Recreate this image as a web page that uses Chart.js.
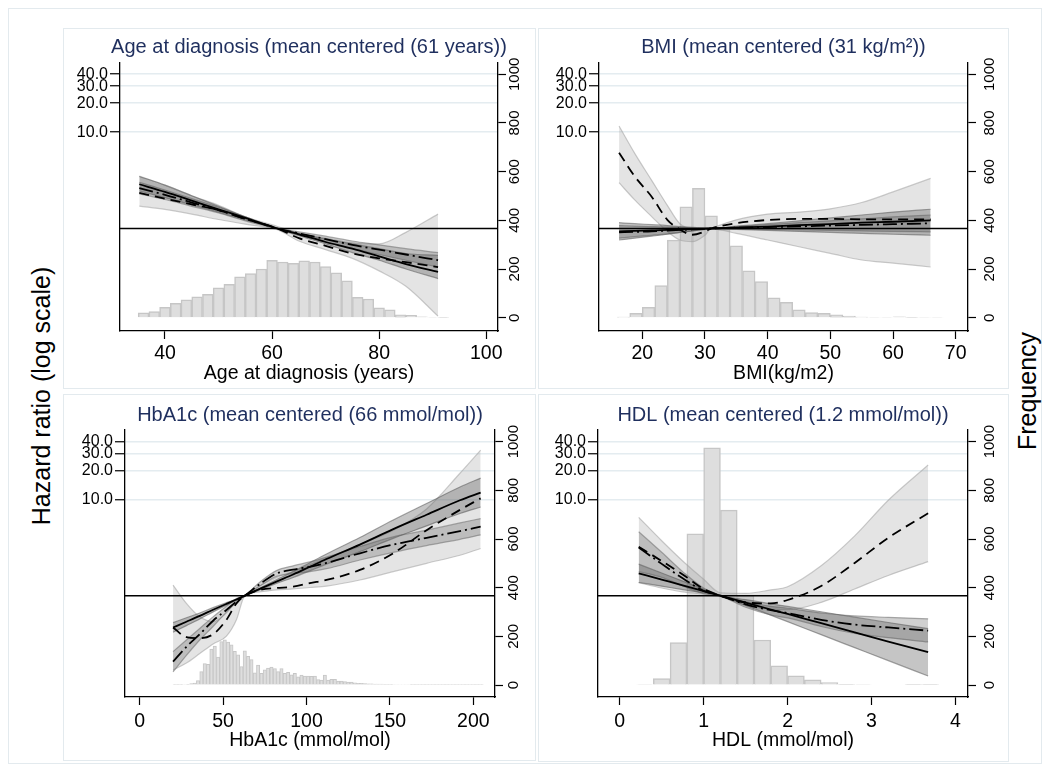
<!DOCTYPE html>
<html><head><meta charset="utf-8">
<script src="https://cdn.jsdelivr.net/npm/chart.js@4.4.0/dist/chart.umd.min.js"></script>
<style>
body{margin:0;background:#fff;width:1049px;height:769px;overflow:hidden;position:relative;font-family:"Liberation Sans",Arial,sans-serif;}
.box{position:absolute;border:1px solid #e3eaee;box-sizing:border-box;}
canvas{position:absolute;}
.lab{position:absolute;font-size:25px;white-space:nowrap;transform:translate(-50%,-50%) rotate(-90deg);color:#000;}
</style></head><body>
<div class="box" style="left:8px;top:8px;width:1034px;height:756px"></div>
<div class="box" style="left:63px;top:28px;width:473px;height:361px"></div>
<div class="box" style="left:538px;top:28px;width:471px;height:361px"></div>
<div class="box" style="left:63px;top:394px;width:473px;height:367px"></div>
<div class="box" style="left:538px;top:394px;width:471px;height:368px"></div>
<canvas id="c1" width="473" height="370" style="left:63px;top:20px"></canvas>
<canvas id="c2" width="474" height="370" style="left:536px;top:20px"></canvas>
<canvas id="c3" width="473" height="372" style="left:63px;top:390px"></canvas>
<canvas id="c4" width="474" height="372" style="left:536px;top:390px"></canvas>
<div class="lab" style="left:41px;top:396px">Hazard ratio (log scale)</div>
<div class="lab" style="left:1027px;top:391px">Frequency</div>
<script>
// ---------- tick labels ----------
const hrTicks = [10, 20, 30, 40];
const freqTicks = [0, 200, 400, 600, 800, 1000];
const ageTicks = [40, 60, 80, 100];
const bmiTicks = [20, 30, 40, 50, 60, 70];
const hbaTicks = [0, 50, 100, 150, 200];
const hdlTicks = [0, 1, 2, 3, 4];

// ---------- Age at diagnosis ----------
const ageBins = [36,38,40,42,44,46,48,50,52,54,56,58,60,62,64,66,68,70,72,74,76,78,80,82,84,86,88,90,92];
const ageFreq = [20,25,43,59,73,86,96,123,137,168,181,200,236,229,223,234,229,210,184,152,84,77,41,32,12,10,4,2,1];
const ageX = [35.2, 40, 45, 50, 55, 61, 65, 70, 75, 80, 85, 91];
const ageLinHR = [2.88, 2.40, 1.95, 1.58, 1.29, 1.00, 0.871, 0.724, 0.617, 0.513, 0.427, 0.355];
const ageLinUp = [3.47, 2.82, 2.19, 1.70, 1.32, 1.01, 0.891, 0.776, 0.692, 0.617, 0.550, 0.525];
const ageLinLo = [2.45, 2.09, 1.76, 1.48, 1.23, 0.99, 0.841, 0.692, 0.562, 0.468, 0.380, 0.302];
const ageDdHR = [2.63, 2.24, 1.86, 1.55, 1.26, 1.00, 0.891, 0.776, 0.676, 0.603, 0.537, 0.468];
const ageDdUp = [3.02, 2.51, 2.04, 1.66, 1.32, 1.01, 0.923, 0.832, 0.741, 0.676, 0.617, 0.562];
const ageDdLo = [2.29, 2.00, 1.70, 1.45, 1.20, 0.99, 0.861, 0.724, 0.617, 0.537, 0.468, 0.398];
const ageSplHR = [2.34, 2.04, 1.78, 1.55, 1.26, 1.00, 0.794, 0.661, 0.550, 0.490, 0.447, 0.398];
const ageSplUp = [3.51, 2.82, 2.19, 1.74, 1.32, 1.05, 0.891, 0.794, 0.708, 0.692, 0.912, 1.41];
const ageSplLo = [1.71, 1.58, 1.41, 1.24, 1.11, 0.97, 0.741, 0.603, 0.490, 0.363, 0.251, 0.123];

// ---------- BMI ----------
const bmiBins = [17,19,21,23,25,27,29,31,33,35,37,39,41,43,45,47,49,51,53,55,57,59,61,63,65,67];
const bmiFreq = [3,18,43,132,319,456,532,419,363,295,193,148,82,63,32,21,18,12,7,3,2,2,4,1,2,2];
const bmiX = [16.3, 18.8, 21.5, 24, 26, 28, 30, 31, 35, 40, 45, 50, 55, 60, 66];
const bmiSplHR = [6.12, 3.47, 2.14, 1.23, 0.977, 0.861, 0.933, 1.00, 1.135, 1.225, 1.259, 1.259, 1.245, 1.245, 1.245];
const bmiSplUp = [11.59, 6.03, 3.16, 1.74, 1.12, 0.989, 0.977, 1.01, 1.23, 1.41, 1.48, 1.60, 1.86, 2.40, 3.31];
const bmiSplLo = [2.99, 1.98, 1.33, 0.93, 0.759, 0.730, 0.851, 0.989, 0.891, 0.759, 0.646, 0.552, 0.471, 0.437, 0.398];
const bmiLinHR = [0.933, 0.944, 0.955, 0.966, 0.977, 0.986, 0.995, 1.00, 1.023, 1.047, 1.084, 1.109, 1.148, 1.175, 1.216];
const bmiLinUp = [1.148, 1.122, 1.096, 1.072, 1.047, 1.028, 1.012, 1.007, 1.059, 1.122, 1.202, 1.288, 1.380, 1.479, 1.585];
const bmiLinLo = [0.759, 0.794, 0.832, 0.871, 0.912, 0.944, 0.977, 0.993, 0.977, 0.955, 0.933, 0.912, 0.891, 0.871, 0.851];
const bmiDdHR = [0.912, 0.923, 0.933, 0.951, 0.966, 0.977, 0.991, 1.00, 1.019, 1.035, 1.052, 1.072, 1.091, 1.109, 1.132];
const bmiDdUp = [1.072, 1.059, 1.047, 1.035, 1.023, 1.014, 1.005, 1.002, 1.047, 1.096, 1.148, 1.202, 1.259, 1.318, 1.380];
const bmiDdLo = [0.794, 0.822, 0.851, 0.881, 0.912, 0.944, 0.977, 0.995, 0.989, 0.977, 0.966, 0.955, 0.944, 0.933, 0.923];

// ---------- HbA1c ----------
const hbaBins = [21,23,25,27,29,31,33,35,37,39,41,43,45,47,49,51,53,55,57,59,61,63,65,67,69,71,73,75,77,79,81,83,85,87,89,91,93,95,97,99,101,103,105,107,109,111,113,115,117,119,121,123,125,127,129,131,133,135,137,139,141,143,145,147,149,151,153,155,157,159,161,163,165,167,169,171,173,175,177,179,181,183,185,187,189,191,193,195,197,199,201,203,205];
const hbaFreq = [1,1,1,2,3,6,8,18,55,88,85,148,160,115,178,186,176,165,138,124,76,140,118,104,50,82,48,62,70,74,68,55,68,48,52,42,48,34,41,37,37,36,37,22,20,41,20,23,23,16,16,14,12,12,9,7,7,6,5,5,4,4,4,3,3,3,2,2,2,2,2,1,1,1,1,1,1,1,1,1,1,1,1,1,1,1,1,1,1,1,1,1,1];
const hbaX = [20, 28, 36, 44, 52, 58, 63, 72, 82, 92, 102, 112, 132, 152, 172, 192, 204.4];
const hbaLinHR = [0.468, 0.537, 0.617, 0.714, 0.822, 0.912, 1.00, 1.175, 1.40, 1.66, 1.995, 2.40, 3.39, 4.90, 6.92, 9.77, 11.75];
const hbaLinUp = [0.525, 0.590, 0.662, 0.751, 0.847, 0.925, 1.005, 1.202, 1.466, 1.782, 2.198, 2.704, 4.009, 6.095, 9.036, 13.40, 16.60];
const hbaLinLo = [0.417, 0.489, 0.574, 0.679, 0.798, 0.899, 0.995, 1.148, 1.337, 1.545, 1.811, 2.128, 2.864, 3.936, 5.297, 7.129, 8.318];
const hbaDdHR = [0.207, 0.295, 0.398, 0.550, 0.711, 0.871, 1.00, 1.318, 1.698, 1.862, 1.995, 2.188, 2.754, 3.388, 3.981, 4.677, 5.200];
const hbaDdUp = [0.263, 0.347, 0.457, 0.603, 0.776, 0.933, 1.012, 1.380, 1.820, 2.042, 2.239, 2.512, 3.236, 4.074, 4.786, 5.689, 6.310];
const hbaDdLo = [0.162, 0.240, 0.347, 0.479, 0.676, 0.851, 0.989, 1.259, 1.585, 1.698, 1.778, 1.905, 2.344, 2.818, 3.311, 3.846, 4.266];
const hbaSplHR = [0.468, 0.372, 0.363, 0.398, 0.562, 0.832, 1.00, 1.148, 1.202, 1.239, 1.349, 1.455, 1.849, 2.754, 4.786, 7.762, 10.23];
const hbaSplUp = [1.288, 0.832, 0.603, 0.537, 0.661, 0.891, 1.00, 1.259, 1.549, 1.778, 2.089, 2.455, 3.388, 4.786, 7.943, 18.62, 32.36];
const hbaSplLo = [0.170, 0.200, 0.251, 0.316, 0.380, 0.562, 1.00, 1.096, 1.148, 1.175, 1.216, 1.259, 1.455, 1.778, 2.168, 2.630, 3.090];

// ---------- HDL ----------
const hdlBins = [0.3,0.5,0.7,0.9,1.1,1.3,1.5,1.7,1.9,2.1,2.3,2.5,2.7,2.9,3.1,3.3,3.5,3.7];
const hdlFreq = [2,26,174,621,975,719,369,185,79,38,21,10,3,2,0,0,1,1];
const hdlX = [0.226, 0.5, 0.75, 1.0, 1.2, 1.5, 1.8, 2.0, 2.4, 2.8, 3.2, 3.675];
const hdlLinHR = [1.706, 1.468, 1.279, 1.117, 1.00, 0.849, 0.719, 0.646, 0.518, 0.416, 0.334, 0.259];
const hdlLinUp = [2.123, 1.718, 1.416, 1.169, 1.00, 0.910, 0.824, 0.774, 0.681, 0.598, 0.527, 0.455];
const hdlLinLo = [1.371, 1.256, 1.156, 1.069, 1.00, 0.792, 0.628, 0.538, 0.394, 0.289, 0.212, 0.147];
const hdlDdHR = [3.162, 2.138, 1.514, 1.122, 1.00, 0.813, 0.708, 0.661, 0.562, 0.501, 0.468, 0.434];
const hdlDdUp = [4.613, 2.818, 1.778, 1.202, 1.012, 0.871, 0.776, 0.741, 0.661, 0.617, 0.596, 0.575];
const hdlDdLo = [1.778, 1.549, 1.259, 1.047, 0.989, 0.759, 0.631, 0.589, 0.479, 0.407, 0.367, 0.331];
const hdlSplHR = [3.221, 2.291, 1.660, 1.175, 1.00, 0.851, 0.832, 0.902, 1.259, 2.188, 3.981, 7.161];
const hdlSplUp = [6.50, 3.715, 2.291, 1.479, 1.072, 1.059, 1.148, 1.239, 2.042, 4.169, 9.772, 22.70];
const hdlSplLo = [1.365, 1.202, 1.096, 1.035, 0.977, 0.794, 0.724, 0.716, 0.851, 1.175, 1.622, 2.254];

// ---------- styling / building ----------
const FONT = '"Liberation Sans", Arial, sans-serif';
const NAVY = '#1f2f5e';
Chart.defaults.font.family = FONT;

function pts(xs, ys) { return xs.map((x, i) => ({ x: x, y: ys[i] })); }

function band(xs, up, lo, fillColor, edgeColor, order) {
  return [
    { type: 'line', data: pts(xs, up), borderColor: edgeColor, borderWidth: 1.2, pointRadius: 0,
      fill: false, cubicInterpolationMode: 'monotone', yAxisID: 'yh', order: order },
    { type: 'line', data: pts(xs, lo), borderColor: edgeColor, borderWidth: 1.2, pointRadius: 0,
      fill: '-1', backgroundColor: fillColor, cubicInterpolationMode: 'monotone', yAxisID: 'yh', order: order }
  ];
}
function curve(xs, ys, dash, order) {
  return { type: 'line', data: pts(xs, ys), borderColor: '#000', borderWidth: 1.8, borderDash: dash,
    pointRadius: 0, fill: false, cubicInterpolationMode: 'monotone', yAxisID: 'yh', order: order };
}
function bars(bins, freq, bw) {
  return { type: 'bar', data: pts(bins, freq), backgroundColor: 'rgb(222,222,222)', borderColor: 'rgb(198,198,198)',
    borderWidth: bw, barPercentage: 1, categoryPercentage: 1, yAxisID: 'yf', order: 20 };
}
function refLine(xMin, xMax) {
  return { type: 'line', data: [{ x: xMin, y: 1 }, { x: xMax, y: 1 }], borderColor: '#000', borderWidth: 1.6,
    pointRadius: 0, fill: false, yAxisID: 'yh', order: 5 };
}
function models(xs, m) {
  return [].concat(
    band(xs, m.splUp, m.splLo, 'rgba(150,150,150,0.26)', 'rgba(160,160,160,0.55)', 12),
    band(xs, m.ddUp, m.ddLo, 'rgba(100,100,100,0.30)', 'rgba(110,110,110,0.55)', 11),
    band(xs, m.linUp, m.linLo, 'rgba(80,80,80,0.33)', 'rgba(90,90,90,0.55)', 10),
    [curve(xs, m.spl, [10, 6], 3), curve(xs, m.dd, [14, 4, 2, 4], 2), curve(xs, m.lin, [], 1)]
  );
}

const titlePlugin = {
  id: 'panelTitle',
  afterDraw(chart, args, opts) {
    const ctx = chart.ctx, a = chart.chartArea;
    ctx.save();
    ctx.font = '20px ' + FONT;
    ctx.fillStyle = NAVY;
    ctx.textAlign = 'center';
    ctx.textBaseline = 'alphabetic';
    ctx.fillText(opts.text, (a.left + a.right) / 2, opts.y);
    ctx.restore();
  }
};

function makeChart(id, p) {
  new Chart(document.getElementById(id), {
    type: 'line',
    data: { datasets: p.datasets },
    options: {
      responsive: false, animation: false, devicePixelRatio: 1, events: [],
      layout: { padding: { top: p.padTop, left: 0, right: 0, bottom: 0 } },
      plugins: { legend: { display: false }, tooltip: { enabled: false },
        panelTitle: { text: p.title, y: p.titleY } },
      scales: {
        x: { type: 'linear', position: 'bottom', min: p.xMin, max: p.xMax, bounds: 'data', offset: false,
          afterBuildTicks: s => { s.ticks = p.xTicks.map(v => ({ value: v })); },
          afterFit: s => { s.height = p.xH; },
          ticks: { font: { size: 19.5 }, color: '#000', padding: p.xPad, autoSkip: false, maxRotation: 0,
            callback: v => String(v) },
          grid: { drawOnChartArea: false, tickColor: '#000', tickLength: 8, tickWidth: 1.2, offset: false },
          border: { display: true, color: '#000', width: 1.3 },
          title: { display: true, text: p.xTitle, font: { size: 19.5 }, color: '#000',
            padding: { top: 0, bottom: p.xTitlePad } } },
        yh: { type: 'logarithmic', position: 'left', min: p.hrMin, max: p.hrMax, bounds: 'data',
          afterBuildTicks: s => { s.ticks = hrTicks.map(v => ({ value: v })); },
          afterFit: s => { s.width = p.yLW; },
          ticks: { font: { size: 16 }, color: '#000', padding: 2, autoSkip: false,
            callback: v => Number(v).toFixed(1) },
          grid: { color: '#e4ecf0', lineWidth: 1.5, tickColor: '#000', tickLength: 10, tickWidth: 1.2 },
          border: { display: true, color: '#000', width: 1.3 } },
        yf: { type: 'linear', position: 'right', min: p.fMin, max: p.fMax, bounds: 'data',
          afterBuildTicks: s => { s.ticks = freqTicks.map(v => ({ value: v })); },
          afterFit: s => { s.width = p.yRW; },
          ticks: { font: { size: 15 }, color: '#000', padding: p.yRPad, minRotation: 90, maxRotation: 90,
            crossAlign: 'center', autoSkip: false, callback: v => String(v) },
          grid: { drawOnChartArea: false, tickColor: '#000', tickLength: 8, tickWidth: 1.2 },
          border: { display: true, color: '#000', width: 1.3 } }
      }
    },
    plugins: [titlePlugin]
  });
}

makeChart('c1', {
  title: 'Age at diagnosis (mean centered (61 years))', titleY: 33,
  xTitle: 'Age at diagnosis (years)', xMin: 31.6, xMax: 102.2, xTicks: ageTicks,
  padTop: 43, xH: 59, yLW: 57, yRW: 38, xPad: 3, xTitlePad: 5, yRPad: -8,
  hrMin: 0.0862, hrMax: 52.3, fMin: -54.6, fMax: 1046.4,
  datasets: [bars(ageBins, ageFreq, 1.5), refLine(31.6, 102.2)].concat(models(ageX, {
    spl: ageSplHR, splUp: ageSplUp, splLo: ageSplLo, dd: ageDdHR, ddUp: ageDdUp, ddLo: ageDdLo,
    lin: ageLinHR, linUp: ageLinUp, linLo: ageLinLo }))
});
makeChart('c2', {
  title: 'BMI (mean centered (31 kg/m\u00B2))', titleY: 33,
  xTitle: 'BMI(kg/m2)', xMin: 13.1, xMax: 71.96, xTicks: bmiTicks,
  padTop: 43, xH: 59, yLW: 63, yRW: 42, xPad: 3, xTitlePad: 5, yRPad: -3,
  hrMin: 0.0862, hrMax: 52.3, fMin: -54.6, fMax: 1046.4,
  datasets: [bars(bmiBins, bmiFreq, 1.5), refLine(13.1, 71.96)].concat(models(bmiX, {
    spl: bmiSplHR, splUp: bmiSplUp, splLo: bmiSplLo, dd: bmiDdHR, ddUp: bmiDdUp, ddLo: bmiDdLo,
    lin: bmiLinHR, linUp: bmiLinUp, linLo: bmiLinLo }))
});
makeChart('c3', {
  title: 'HbA1c (mean centered (66 mmol/mol))', titleY: 31,
  xTitle: 'HbA1c (mmol/mol)', xMin: -8.8, xMax: 213, xTicks: hbaTicks,
  padTop: 40, xH: 65, yLW: 62, yRW: 41, xPad: 5, xTitlePad: 10, yRPad: -6,
  hrMin: 0.0889, hrMax: 52.35, fMin: -49.3, fMax: 1048,
  datasets: [bars(hbaBins, hbaFreq, 1), refLine(-8.8, 213)].concat(models(hbaX, {
    spl: hbaSplHR, splUp: hbaSplUp, splLo: hbaSplLo, dd: hbaDdHR, ddUp: hbaDdUp, ddLo: hbaDdLo,
    lin: hbaLinHR, linUp: hbaLinUp, linLo: hbaLinLo }))
});
makeChart('c4', {
  title: 'HDL (mean centered (1.2 mmol/mol))', titleY: 31,
  xTitle: 'HDL (mmol/mol)', xMin: -0.259, xMax: 4.15, xTicks: hdlTicks,
  padTop: 40, xH: 65, yLW: 62, yRW: 42, xPad: 5, xTitlePad: 10, yRPad: -3,
  hrMin: 0.0889, hrMax: 52.35, fMin: -49.3, fMax: 1048,
  datasets: [bars(hdlBins, hdlFreq, 1.5), refLine(-0.259, 4.15)].concat(models(hdlX, {
    spl: hdlSplHR, splUp: hdlSplUp, splLo: hdlSplLo, dd: hdlDdHR, ddUp: hdlDdUp, ddLo: hdlDdLo,
    lin: hdlLinHR, linUp: hdlLinUp, linLo: hdlLinLo }))
});
</script>
</body></html>
